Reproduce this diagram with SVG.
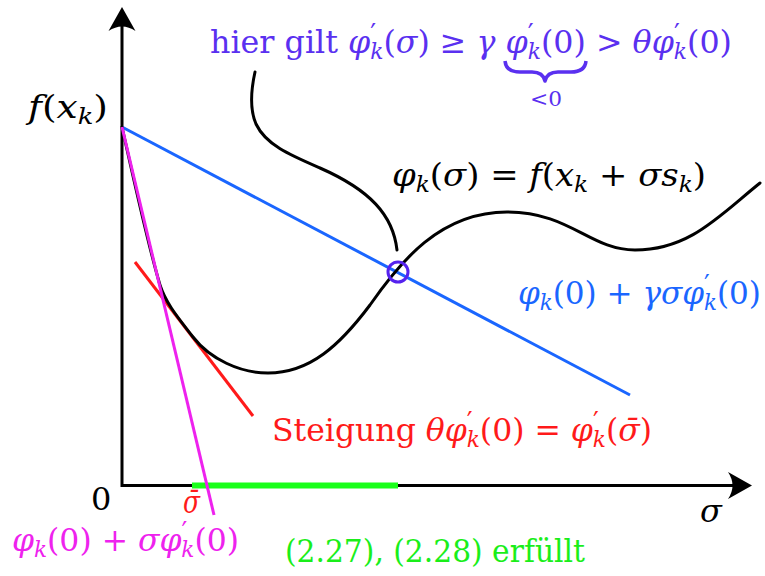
<svg xmlns="http://www.w3.org/2000/svg" xmlns:xlink="http://www.w3.org/1999/xlink" width="765" height="576" viewBox="0 0 765 576">
<style>
text{font-family:'DejaVu Serif',serif;font-size:32px}
.i{font-style:italic}
.s{font-size:22px}
.p{font-size:26px}
.ax{fill:none;stroke:#000;stroke-width:3}
.crv{fill:none;stroke:#000;stroke-width:3;stroke-linecap:round}
</style>
<defs>
<path id="ah" d="M0,0 L-24,-13.5 Q-15,0 -24,13.5 Z" fill="#000"/>
</defs>
<rect width="765" height="576" fill="#fff"/>
<g id="axes">
<path class="ax" d="M122,24 L122,485.5 L738,485.5"/>
<use xlink:href="#ah" transform="translate(752,485.5)"/>
<use xlink:href="#ah" transform="translate(122,7) rotate(-90)"/>
</g>
<g id="connectors">
<path id="green-interval" d="M192,485.5 L398,485.5" stroke="#1aff1a" stroke-width="6"/>
<path id="blue-line" d="M122,127 L630,395" stroke="#1a66ff" stroke-width="3"/>
<path id="red-tangent" d="M135,262 L253,416" stroke="#ff1a1a" stroke-width="3"/>
<path id="phi-curve" class="crv" d="M122,127 C135,185 148,245 160,285 C166,304 180,320 193,337 C210,359 240,373 268,373 C310,373 340,345 370,305 C400,262 440,212 507,212 C570,212 590,250 635,250 C690,250 720,215 760,183"/>
<path id="magenta-line" d="M122,127 L214,515" stroke="#ee22ee" stroke-width="3"/>
<path id="pointer-curve" class="crv" d="M255,72 C251,90 250,110 256,124 C266,145 290,155 320,168 C370,190 393,215 397,250"/>
<circle id="mark" cx="398" cy="272" r="10" fill="none" stroke="#5522ee" stroke-width="3"/>
<path id="brace" d="M505,61 Q506,72 520,72 L532,72 Q543,72 545,81 Q547,72 558,72 L571,72 Q585,72 586,61" fill="none" stroke="#5a30f0" stroke-width="3.5" stroke-linejoin="round"/>
</g>
<g id="label-fx">
<text x="28" y="118" textLength="80" lengthAdjust="spacingAndGlyphs"><tspan class="i">f</tspan>(<tspan class="i">x</tspan><tspan class="s i" dy="6">k</tspan><tspan dy="-6">)</tspan></text>
</g>
<g id="label-hier" fill="#5a30f0">
<text x="210" y="53" textLength="522" lengthAdjust="spacingAndGlyphs">hier gilt <tspan class="i">φ</tspan><tspan class="p" dy="-11">′</tspan><tspan class="s i" dx="-6" dy="17">k</tspan><tspan dy="-6">(</tspan><tspan class="i">σ</tspan>) ≥ <tspan class="i">γ</tspan> <tspan class="i">φ</tspan><tspan class="p" dy="-11">′</tspan><tspan class="s i" dx="-6" dy="17">k</tspan><tspan dy="-6">(0) &gt; </tspan><tspan class="i">θφ</tspan><tspan class="p" dy="-11">′</tspan><tspan class="s i" dx="-6" dy="17">k</tspan><tspan dy="-6">(0)</tspan></text>
<text x="530" y="106" style="font-size:20px" textLength="32" lengthAdjust="spacingAndGlyphs">&lt;0</text>
</g>
<g id="label-phi">
<text x="392" y="186" textLength="314" lengthAdjust="spacingAndGlyphs"><tspan class="i">φ</tspan><tspan class="s i" dy="6">k</tspan><tspan dy="-6">(</tspan><tspan class="i">σ</tspan>) = <tspan class="i">f</tspan>(<tspan class="i">x</tspan><tspan class="s i" dy="6">k</tspan><tspan dy="-6"> + </tspan><tspan class="i">σs</tspan><tspan class="s i" dy="6">k</tspan><tspan dy="-6">)</tspan></text>
</g>
<g id="label-blue" fill="#1a66ff">
<text x="518" y="304" textLength="243" lengthAdjust="spacingAndGlyphs"><tspan class="i">φ</tspan><tspan class="s i" dy="6">k</tspan><tspan dy="-6">(0) + </tspan><tspan class="i">γσφ</tspan><tspan class="p" dy="-11">′</tspan><tspan class="s i" dx="-6" dy="17">k</tspan><tspan dy="-6">(0)</tspan></text>
</g>
<g id="label-red" fill="#ff1a1a">
<text x="272" y="441" textLength="380" lengthAdjust="spacingAndGlyphs">Steigung <tspan class="i">θφ</tspan><tspan class="p" dy="-11">′</tspan><tspan class="s i" dx="-6" dy="17">k</tspan><tspan dy="-6">(0) = </tspan><tspan class="i">φ</tspan><tspan class="p" dy="-11">′</tspan><tspan class="s i" dx="-6" dy="17">k</tspan><tspan dy="-6">(</tspan><tspan class="i">σ̄</tspan>)</text>
<text class="i" x="183" y="513" textLength="17" lengthAdjust="spacingAndGlyphs">σ̄</text>
</g>
<g id="label-axes">
<text x="91" y="510">0</text>
<text class="i" x="700" y="522">σ</text>
</g>
<g id="label-magenta" fill="#ee22ee">
<text x="12" y="551" textLength="227" lengthAdjust="spacingAndGlyphs"><tspan class="i">φ</tspan><tspan class="s i" dy="6">k</tspan><tspan dy="-6">(0) + </tspan><tspan class="i">σφ</tspan><tspan class="p" dy="-11">′</tspan><tspan class="s i" dx="-6" dy="17">k</tspan><tspan dy="-6">(0)</tspan></text>
</g>
<g id="label-green" fill="#1aee1a">
<text x="285" y="562" textLength="300" lengthAdjust="spacingAndGlyphs">(2.27), (2.28) erfüllt</text>
</g>
</svg>
